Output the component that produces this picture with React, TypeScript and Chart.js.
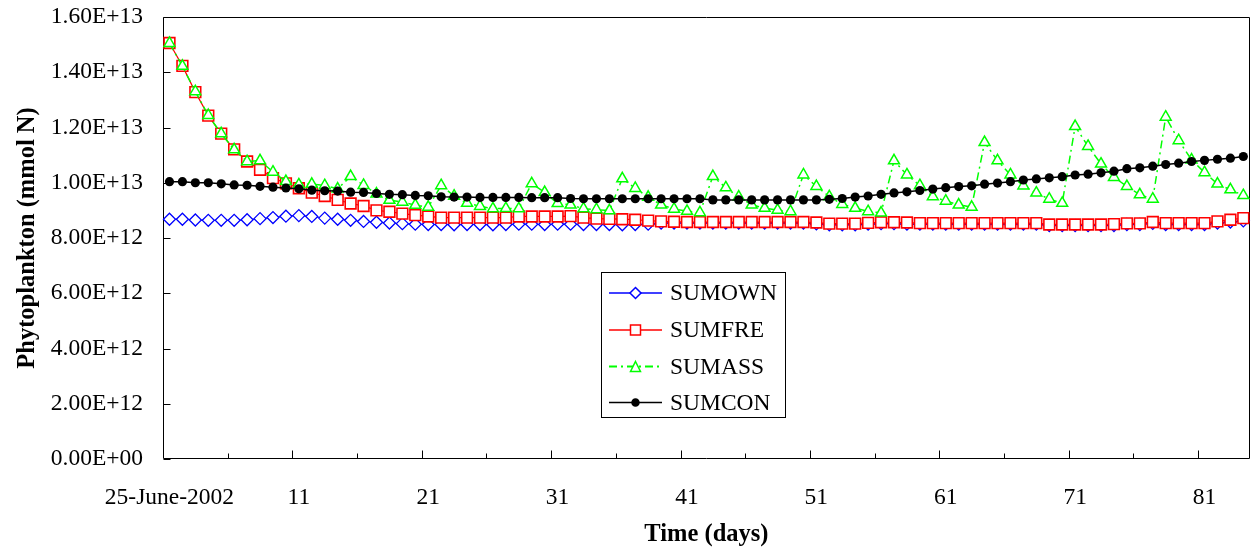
import React, { useEffect, useRef } from "react";
import { Chart, registerables } from "chart.js";

Chart.register(...registerables);

// ---------- data ----------
const dayLabels = [
  "25-June-2002", "2", "3", "4", "5", "6", "7", "8", "9", "10",
  "11", "12", "13", "14", "15", "16", "17", "18", "19", "20",
  "21", "22", "23", "24", "25", "26", "27", "28", "29", "30",
  "31", "32", "33", "34", "35", "36", "37", "38", "39", "40",
  "41", "42", "43", "44", "45", "46", "47", "48", "49", "50",
  "51", "52", "53", "54", "55", "56", "57", "58", "59", "60",
  "61", "62", "63", "64", "65", "66", "67", "68", "69", "70",
  "71", "72", "73", "74", "75", "76", "77", "78", "79", "80",
  "81", "82", "83", "84",
];

const yTickLabels = [
  "0.00E+00", "2.00E+12", "4.00E+12", "6.00E+12", "8.00E+12",
  "1.00E+13", "1.20E+13", "1.40E+13", "1.60E+13",
];

const UNIT = 1e12; // values below are in units of 1E+12 mmol N

const sumOwn = [
  8.68, 8.68, 8.65, 8.64, 8.64, 8.64, 8.66, 8.70, 8.74, 8.79,
  8.81, 8.78, 8.72, 8.68, 8.64, 8.60, 8.57, 8.54, 8.52, 8.50,
  8.49, 8.49, 8.48, 8.49, 8.49, 8.48, 8.49, 8.50, 8.50, 8.49,
  8.50, 8.50, 8.49, 8.49, 8.49, 8.48, 8.49, 8.50, 8.54, 8.54,
  8.54, 8.54, 8.54, 8.54, 8.54, 8.54, 8.54, 8.54, 8.54, 8.54,
  8.51, 8.48, 8.48, 8.48, 8.50, 8.52, 8.52, 8.50, 8.50, 8.50,
  8.50, 8.50, 8.50, 8.50, 8.50, 8.50, 8.50, 8.50, 8.45, 8.45,
  8.45, 8.45, 8.45, 8.45, 8.49, 8.49, 8.53, 8.49, 8.49, 8.49,
  8.49, 8.54, 8.58, 8.62,
];

const sumFre = [
  15.06, 14.23, 13.28, 12.43, 11.78, 11.21, 10.77, 10.47, 10.17, 9.98,
  9.80, 9.64, 9.52, 9.38, 9.25, 9.16, 9.00, 8.95, 8.88, 8.83,
  8.78, 8.74, 8.74, 8.74, 8.74, 8.74, 8.74, 8.78, 8.78, 8.78,
  8.78, 8.79, 8.74, 8.70, 8.69, 8.68, 8.66, 8.63, 8.60, 8.59,
  8.58, 8.58, 8.58, 8.58, 8.58, 8.58, 8.58, 8.58, 8.58, 8.58,
  8.56, 8.52, 8.52, 8.52, 8.55, 8.57, 8.57, 8.56, 8.54, 8.54,
  8.54, 8.54, 8.54, 8.54, 8.54, 8.54, 8.54, 8.54, 8.49, 8.49,
  8.49, 8.49, 8.49, 8.50, 8.53, 8.53, 8.58, 8.54, 8.54, 8.54,
  8.54, 8.60, 8.66, 8.72,
];

const sumAss = [
  15.05, 14.22, 13.30, 12.44, 11.78, 11.20, 10.77, 10.80, 10.39, 10.05,
  9.93, 9.95, 9.90, 9.78, 10.23, 9.91, 9.60, 9.37, 9.30, 9.19,
  9.12, 9.90, 9.52, 9.26, 9.15, 9.06, 9.07, 9.06, 9.97, 9.65,
  9.25, 9.20, 9.06, 9.03, 8.99, 10.15, 9.80, 9.48, 9.20, 9.05,
  8.97, 8.92, 10.23, 9.82, 9.49, 9.20, 9.08, 9.01, 8.96, 10.29,
  9.87, 9.50, 9.22, 9.08, 8.96, 8.91, 10.80, 10.29, 9.90, 9.50,
  9.34, 9.20, 9.12, 11.46, 10.80, 10.29, 9.89, 9.63, 9.41, 9.26,
  12.04, 11.32, 10.68, 10.20, 9.87, 9.57, 9.41, 12.38, 11.53, 10.83,
  10.37, 9.96, 9.75, 9.54,
];

const sumCon = [
  10.04, 10.04, 10.00, 10.00, 9.96, 9.92, 9.91, 9.87, 9.84, 9.81,
  9.78, 9.73, 9.71, 9.70, 9.66, 9.65, 9.61, 9.58, 9.57, 9.54,
  9.53, 9.49, 9.48, 9.48, 9.47, 9.47, 9.47, 9.47, 9.46, 9.46,
  9.46, 9.43, 9.42, 9.42, 9.42, 9.42, 9.42, 9.42, 9.42, 9.42,
  9.42, 9.42, 9.38, 9.38, 9.38, 9.38, 9.38, 9.38, 9.38, 9.38,
  9.38, 9.40, 9.43, 9.48, 9.52, 9.58, 9.63, 9.67, 9.72, 9.77,
  9.82, 9.86, 9.89, 9.95, 9.99, 10.04, 10.10, 10.14, 10.18, 10.22,
  10.28, 10.31, 10.36, 10.42, 10.51, 10.54, 10.60, 10.66, 10.71, 10.77,
  10.81, 10.85, 10.89, 10.95,
];

const seriesNames = ["SUMOWN", "SUMFRE", "SUMASS", "SUMCON"];
const seriesColors = ["#0000FF", "#FF0000", "#00FF00", "#000000"];

const FONT = '"Liberation Serif", "Times New Roman", serif';

// ---------- plugins ----------
const framePlugin = {
  id: "frameTicks",
  beforeDatasetsDraw(chart: any) {
    const { ctx, chartArea: a, scales } = chart;
    const xs = scales.x;
    const ys = scales.y;
    const L = Math.round(a.left) + 0.5;
    const R = Math.round(a.right) - 0.5;
    const T = Math.round(a.top) + 0.5;
    const B = Math.round(a.bottom) - 0.5;
    ctx.save();
    ctx.strokeStyle = "#000";
    ctx.lineWidth = 1;
    ctx.beginPath();
    ctx.rect(L, T, R - L, B - T);
    ys.ticks.forEach((_t: any, i: number) => {
      const py = Math.round(ys.getPixelForTick(i)) + 0.5;
      ctx.moveTo(L, py);
      ctx.lineTo(L + 7, py);
    });
    for (let i = 5; i < dayLabels.length; i += 5) {
      const px =
        Math.round((xs.getPixelForValue(i - 1) + xs.getPixelForValue(i)) / 2) + 0.5;
      const len = i % 10 === 0 ? 8 : 5;
      ctx.moveTo(px, B);
      ctx.lineTo(px, B - len);
    }
    ctx.stroke();
    ctx.restore();
  },
};

function drawMarker(ctx: CanvasRenderingContext2D, style: string, x: number, y: number, color: string) {
  ctx.save();
  ctx.strokeStyle = color;
  ctx.fillStyle = style === "circle" ? color : "#fff";
  ctx.lineWidth = 1.5;
  ctx.setLineDash([]);
  ctx.beginPath();
  if (style === "rectRot") {
    const r = 5.5;
    ctx.moveTo(x, y - r);
    ctx.lineTo(x + r, y);
    ctx.lineTo(x, y + r);
    ctx.lineTo(x - r, y);
    ctx.closePath();
  } else if (style === "rect") {
    const h = 5;
    ctx.rect(x - h, y - h, 2 * h, 2 * h);
  } else if (style === "triangle") {
    const h = 5;
    ctx.moveTo(x, y - h);
    ctx.lineTo(x + h, y + h);
    ctx.lineTo(x - h, y + h);
    ctx.closePath();
  } else {
    ctx.arc(x, y, 3.5, 0, Math.PI * 2);
  }
  ctx.fill();
  ctx.stroke();
  ctx.restore();
}

const legendPlugin = {
  id: "boxLegend",
  afterDraw(chart: any) {
    const ctx: CanvasRenderingContext2D = chart.ctx;
    const box = { x: 601.5, y: 272.5, w: 184, h: 145 };
    ctx.save();
    ctx.fillStyle = "#fff";
    ctx.fillRect(box.x, box.y, box.w, box.h);
    ctx.strokeStyle = "#000";
    ctx.lineWidth = 1;
    ctx.strokeRect(box.x, box.y, box.w, box.h);
    const styles = ["rectRot", "rect", "triangle", "circle"];
    const rows = [293, 330, 366.5, 402.5];
    chart.data.datasets.forEach((ds: any, i: number) => {
      const y = rows[i];
      ctx.beginPath();
      ctx.strokeStyle = ds.borderColor;
      ctx.lineWidth = i === 2 ? 2 : 1.5;
      ctx.setLineDash(i === 2 ? [8, 4, 2, 4] : []);
      ctx.moveTo(609, y);
      ctx.lineTo(662, y);
      ctx.stroke();
      ctx.setLineDash([]);
      drawMarker(ctx, styles[i], 635.5, y, ds.borderColor);
      ctx.fillStyle = "#000";
      ctx.font = `23.5px ${FONT}`;
      ctx.textBaseline = "middle";
      ctx.textAlign = "left";
      ctx.fillText(ds.label, 670, y + 1);
    });
    ctx.restore();
  },
};

const zeroPadding = (scale: any) => {
  scale.paddingTop = 0;
  scale.paddingBottom = 0;
  scale.paddingLeft = 0;
  scale.paddingRight = 0;
};

export default function App() {
  const canvasRef = useRef<HTMLCanvasElement | null>(null);

  useEffect(() => {
    document.body.style.margin = "0";
    document.body.style.overflow = "hidden";
    const canvas = canvasRef.current;
    if (!canvas) return;

    const mk = (i: number, values: number[], style: string, opts: any) => ({
      label: seriesNames[i],
      data: values.map((v) => v * UNIT),
      borderColor: seriesColors[i],
      pointBorderColor: seriesColors[i],
      pointStyle: style,
      tension: 0,
      ...opts,
    });

    const chart = new Chart(canvas, {
      type: "line",
      data: {
        labels: dayLabels,
        datasets: [
          mk(0, sumOwn, "rectRot", {
            borderWidth: 1,
            pointRadius: 6,
            pointBorderWidth: 1.3,
            pointBackgroundColor: "#fff",
            order: 3,
          }),
          mk(1, sumFre, "rect", {
            borderWidth: 1.2,
            pointRadius: 7.6,
            pointBorderWidth: 1.6,
            pointBackgroundColor: "#fff",
            order: 2,
          }),
          mk(2, sumAss, "triangle", {
            borderWidth: 1.5,
            borderDash: [8, 4, 2, 4],
            pointRadius: 6.3,
            pointBorderWidth: 1.5,
            pointBackgroundColor: "#fff",
            order: 1,
          }),
          mk(3, sumCon, "circle", {
            borderWidth: 1.5,
            pointRadius: 4.6,
            pointBorderWidth: 0,
            pointBackgroundColor: "#000",
            order: 0,
          }),
        ],
      },
      options: {
        responsive: false,
        animation: false,
        events: [],
        layout: { padding: { top: 17, right: 0, left: 0, bottom: 0 } },
        plugins: {
          legend: { display: false },
          tooltip: { enabled: false },
        },
        font: { family: FONT },
        scales: {
          x: {
            type: "category",
            offset: true,
            grid: { display: false, drawTicks: false, offset: true },
            border: { display: false },
            ticks: {
              autoSkip: false,
              maxRotation: 0,
              minRotation: 0,
              padding: 5,
              color: "#000",
              font: { family: FONT, size: 23.5, lineHeight: "68px" },
              callback: (_v: any, index: number) =>
                index % 10 === 0 ? dayLabels[index] : "",
            },
            title: {
              display: true,
              text: "Time (days)",
              color: "#000",
              font: { family: FONT, size: 24.5, weight: "bold" },
              padding: { top: 0, bottom: 0 },
            },
            afterFit: (scale: any) => {
              scale.height = 90;
              zeroPadding(scale);
            },
          },
          y: {
            min: 0,
            max: 16 * UNIT,
            grid: { display: false, drawTicks: false },
            border: { display: false },
            ticks: {
              stepSize: 2 * UNIT,
              padding: 20,
              color: "#000",
              font: { family: FONT, size: 23.5 },
              callback: (_v: any, index: number) => yTickLabels[index],
            },
            title: {
              display: true,
              text: "Phytoplankton (mmol N)",
              color: "#000",
              font: { family: FONT, size: 24.5, weight: "bold" },
              padding: { top: 13, bottom: 0 },
            },
            afterFit: (scale: any) => {
              scale.width = 163;
              zeroPadding(scale);
            },
          },
        },
      } as any,
      plugins: [framePlugin, legendPlugin],
    });

    return () => chart.destroy();
  }, []);

  return (
    <div style={{ width: 1257, height: 549, overflow: "hidden" }}>
      <canvas ref={canvasRef} width={1259} height={549} style={{ display: "block" }} />
    </div>
  );
}
